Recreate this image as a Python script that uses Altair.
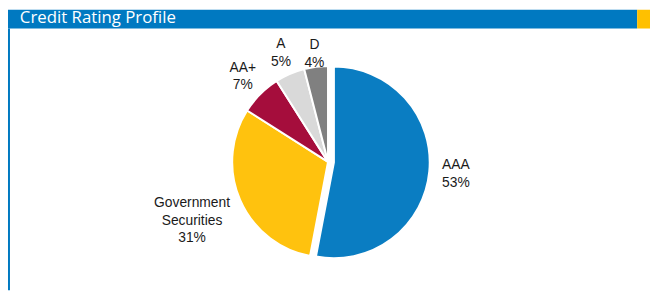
import altair as alt
import pandas as pd

# ---- data ----
title_text = ["Credit Rating Profile"]
categories = ["AAA", "Government Securities", "AA+", "A", "D"]
values = [53, 31, 7, 5, 4]
colors = ["#0A7DC2", "#FFC20E", "#A50D3C", "#D9D9D9", "#808080"]

CX, CY, R = 324, 154, 97
LH = 17.5

df = pd.DataFrame({"category": categories, "value": values, "order": list(range(len(categories)))})

base = (
    alt.Chart(df)
    .transform_window(cum="sum(value)", sort=[alt.SortField("order")], frame=[None, 0])
    .transform_joinaggregate(total="sum(value)")
    .transform_calculate(
        a0="(datum.cum - datum.value) / datum.total * 2 * PI",
        a1="datum.cum / datum.total * 2 * PI",
        mid="(datum.a0 + datum.a1) / 2",
        ex="datum.category == 'AAA' ? 6 : 0",
        px=f"{CX} + datum.ex * sin(datum.mid)",
        py=f"{CY} - datum.ex * cos(datum.mid)",
        lr="datum.category == 'AAA' ? 130 : datum.category == 'Government Securities' ? 150 : datum.category == 'AA+' ? 122 : datum.category == 'A' ? 120 : 110",
        label="replace(datum.category, ' ', '|') + '|' + datum.value + '%'",
        nl="length(split(datum.label, '|'))",
        lx=f"{CX} + datum.lr * sin(datum.mid)",
        ly=f"{CY} - datum.lr * cos(datum.mid) - (datum.nl - 1) * {LH} / 2",
    )
)

arcs = base.mark_arc(outerRadius=R, stroke="white", strokeWidth=2).encode(
    x=alt.X("px:Q", scale=None, axis=None),
    y=alt.Y("py:Q", scale=None, axis=None),
    theta=alt.Theta("a0:Q", scale=None),
    theta2=alt.Theta2("a1:Q"),
    color=alt.Color("category:N", scale=alt.Scale(domain=categories, range=colors), legend=None),
)

labels = base.mark_text(
    font="Liberation Sans", fontSize=14, lineBreak="|", align="center", baseline="middle",
    color="#1a1a1a", lineHeight=LH,
).encode(
    x=alt.X("lx:Q", scale=None, axis=None),
    y=alt.Y("ly:Q", scale=None, axis=None),
    text="label:N",
)

tdf = pd.DataFrame({"t": title_text})
header = alt.Chart(tdf).mark_rect(color="#0079C1").encode(
    x=alt.value(0), x2=alt.value(637), y=alt.value(0), y2=alt.value(19)
)
accent = alt.Chart(tdf).mark_rect(color="#FFC000").encode(
    x=alt.value(637), x2=alt.value(650), y=alt.value(0), y2=alt.value(19)
)
border = alt.Chart(tdf).mark_rect(color="#0079C1").encode(
    x=alt.value(0), x2=alt.value(2), y=alt.value(19), y2=alt.value(284)
)
title = alt.Chart(tdf).mark_text(
    align="left", baseline="alphabetic", font="Open Sans", fontSize=17, color="white"
).encode(x=alt.value(12), y=alt.value(13.5), text="t:N")

chart = (
    alt.layer(header, accent, border, title, arcs, labels)
    .properties(width=650, height=284, autosize="none", padding=0)
    .configure_view(stroke=None)
)

chart.save("out.html", embed_options={"renderer": "svg", "actions": False})
